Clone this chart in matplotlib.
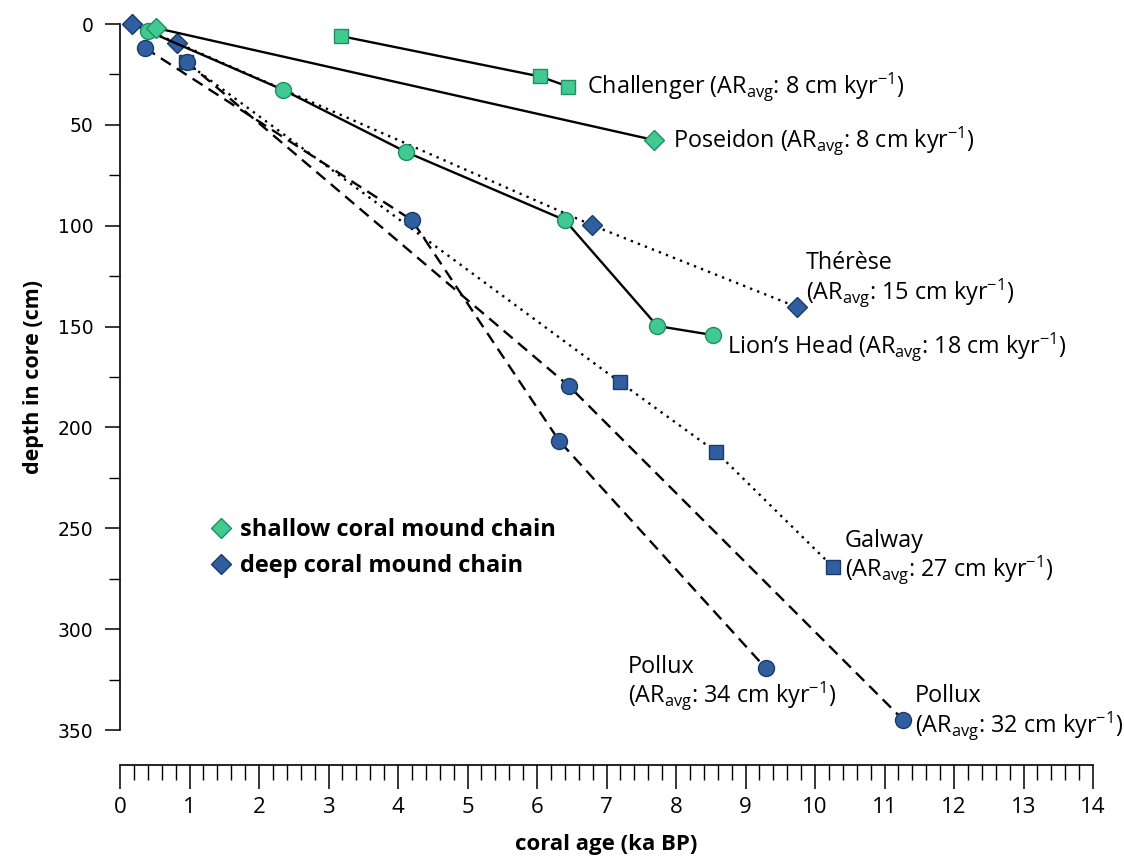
import matplotlib
matplotlib.use('Agg')
import matplotlib.pyplot as plt
from matplotlib.lines import Line2D
from matplotlib.ticker import MultipleLocator

plt.rcParams['font.family'] = ['Open Sans', 'DejaVu Sans']
plt.rcParams['mathtext.fontset'] = 'custom'
plt.rcParams['mathtext.rm'] = 'Open Sans'

# data: coral age (ka BP) vs depth in core (cm)
challenger_age = [3.18, 6.04, 6.45]
challenger_depth = [6, 26, 31]
poseidon_age = [0.52, 7.68]
poseidon_depth = [2, 57.5]
lions_age = [0.40, 2.35, 4.12, 6.40, 7.73, 8.53]
lions_depth = [3.5, 32.7, 63.5, 97.2, 149.7, 154.2]
therese_age = [0.17, 0.82, 6.79, 9.74]
therese_depth = [0, 9.4, 99.7, 140.3]
galway_age = [0.95, 7.19, 8.58, 10.26]
galway_depth = [19, 177.5, 212.2, 269.2]
pollux34_age = [0.36, 4.20, 6.32, 9.29]
pollux34_depth = [11.9, 97.2, 206.7, 319.3]
pollux32_age = [0.96, 6.46, 11.27]
pollux32_depth = [18.8, 179.5, 345]

green = '#40ca92'
green_edge = '#1f8f5e'
blue = '#2f5fa0'
blue_edge = '#1c3a68'

fig = plt.figure(figsize=(11.24, 8.61), dpi=100)
ax = fig.add_axes([120/1124, 1-730/861, 973/1124, 706/861])

def series(x, y, marker, ms, ls, fc, ec, z):
    ax.plot(x, y, color='black', lw=1.7, ls=ls, marker=marker, ms=ms,
            mfc=fc, mec=ec, mew=1.0, clip_on=False, zorder=z)

dashed = (0, (5, 3))
dotted = (0, (1, 2.2))
series(pollux34_age, pollux34_depth, 'o', 11.5, dashed, blue, blue_edge, 3)
series(pollux32_age, pollux32_depth, 'o', 11.5, dashed, blue, blue_edge, 3)
series(galway_age, galway_depth, 's', 10, dotted, blue, blue_edge, 2)
series(therese_age, therese_depth, 'D', 10.5, dotted, blue, blue_edge, 3)
series(lions_age, lions_depth, 'o', 11.5, '-', green, green_edge, 4)
series(poseidon_age, poseidon_depth, 'D', 10.5, '-', green, green_edge, 4)
series(challenger_age, challenger_depth, 's', 10, '-', green, green_edge, 4)

fs = 16.8
def label(txt, x, y, dx, dy):
    ax.annotate(txt, (x, y), xytext=(dx, dy), textcoords='offset points',
                ha='left', va='center', fontsize=fs, linespacing=1.02)

ar = r'AR$_{\mathrm{avg}}$'
kyr = r'kyr$^{\mathrm{-1}}$'
label(f'Challenger ({ar}: 8 cm {kyr})', challenger_age[-1], challenger_depth[-1], 13.5, 0)
label(f'Poseidon ({ar}: 8 cm {kyr})', poseidon_age[-1], poseidon_depth[-1], 13.5, -0.5)
label(f'Thérèse\n({ar}: 15 cm {kyr})', therese_age[-1], therese_depth[-1], 6.5, 19.5)
label(f'Lion\u2019s Head ({ar}: 18 cm {kyr})', lions_age[-1], lions_depth[-1], 10, -8)
label(f'Galway\n({ar}: 27 cm {kyr})', galway_age[-1], galway_depth[-1], 8.5, 7)
label(f'Pollux\n({ar}: 34 cm {kyr})', pollux34_age[-1], pollux34_depth[-1], -99, -11)
label(f'Pollux\n({ar}: 32 cm {kyr})', pollux32_age[-1], pollux32_depth[-1], 8.5, 5)

ax.set_xlim(0, 14)
ax.set_ylim(350, 0)
ax.spines['top'].set_visible(False)
ax.spines['right'].set_visible(False)
ax.spines['bottom'].set_position(('outward', 25))
for s in ('left', 'bottom'):
    ax.spines[s].set_linewidth(1.2)

ax.xaxis.set_major_locator(MultipleLocator(1))
ax.xaxis.set_minor_locator(MultipleLocator(0.2))
ax.yaxis.set_major_locator(MultipleLocator(50))
ax.yaxis.set_minor_locator(MultipleLocator(25))
ax.tick_params(axis='x', which='major', direction='out', length=17, width=1.1,
               labelsize=16, pad=6)
ax.tick_params(axis='x', which='minor', direction='out', length=11, width=1.0)
ax.tick_params(axis='y', which='major', direction='out', length=11, width=1.1,
               labelsize=13.5, pad=8)
ax.tick_params(axis='y', which='minor', direction='out', length=8, width=1.0)
for t in ax.get_yticklabels():
    t.set_fontfamily('DejaVu Sans')

ax.set_xlabel('coral age (ka BP)', fontsize=16, fontweight='bold', labelpad=12)
ax.set_ylabel('depth in core (cm)', fontsize=15.5, fontweight='bold', labelpad=10)

handles = [Line2D([], [], ls='none', marker='D', ms=10, mfc=green, mec=green_edge),
           Line2D([], [], ls='none', marker='D', ms=10, mfc=blue, mec=blue_edge)]
ax.legend(handles, ['shallow coral mound chain', 'deep coral mound chain'],
          loc='upper left', bbox_to_anchor=(0.083, 0.317), frameon=False,
          borderpad=0, handlelength=0.7, handletextpad=0.45, labelspacing=0.5,
          prop={'weight': 'bold', 'size': 17})

fig.savefig('out.png', dpi=100)
